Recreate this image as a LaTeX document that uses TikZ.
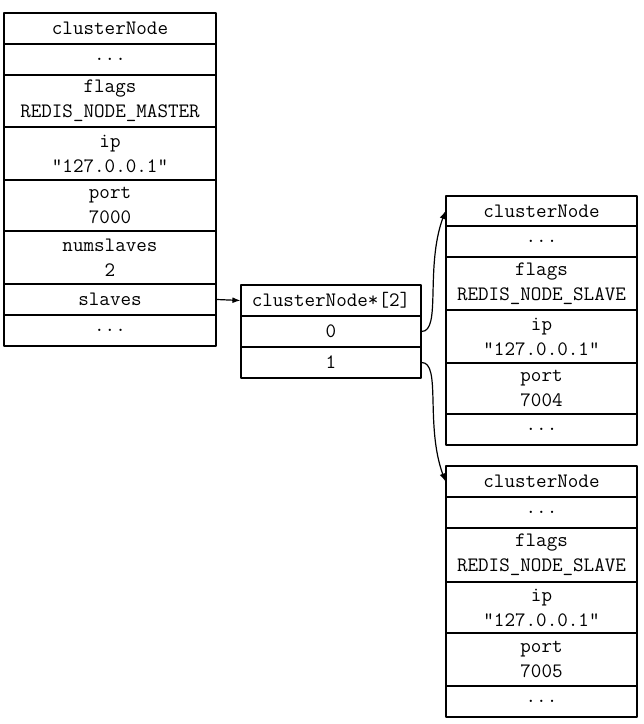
\documentclass[tikz,border=0pt]{standalone}
\usepackage{tikz}
\usetikzlibrary{arrows,arrows.meta,shapes}

\begin{document}
\begin{tikzpicture}[>={Latex[length=8bp,width=6bp]},line join=bevel,
  field/.style={draw,rectangle,inner sep=0pt,align=center,
    font=\ttfamily\fontsize{20.5bp}{25bp}\selectfont},
  mfield/.style={field,minimum width=212bp},
  afield/.style={field,minimum width=180bp},
  sfield/.style={field,minimum width=191bp}]

\pgfsetlinewidth{1.2bp}
\pgfsetcolor{black}
\useasboundingbox (0bp,0bp) rectangle (644bp,724bp);

% Node: master
\node[mfield,minimum height=31bp] (m0) at (110bp,695.5bp) {clusterNode};
\node[mfield,minimum height=31bp] (m1) at (110bp,664.5bp) {...};
\node[mfield,minimum height=52bp] (m2) at (110bp,623bp) {flags\\REDIS\_NODE\_MASTER};
\node[mfield,minimum height=53bp] (m3) at (110bp,570.5bp) {ip\\"127.0.0.1"};
\node[mfield,minimum height=51bp] (m4) at (110bp,518.5bp) {port\\7000};
\node[mfield,minimum height=53bp] (m5) at (110bp,466.5bp) {numslaves\\2};
\node[mfield,minimum height=31bp] (m6) at (110bp,424.5bp) {slaves};
\node[mfield,minimum height=31bp] (m7) at (110bp,393.5bp) {...};

% Node: slaves array
\node[afield,minimum height=31bp] (ah) at (331bp,423.5bp) {clusterNode*[2]};
\node[afield,minimum height=31bp] (a0) at (331bp,392.5bp) {0};
\node[afield,minimum height=31bp] (a1) at (331bp,361.5bp) {1};

% Node: slave 7004
\node[sfield,minimum height=30bp] (s0) at (541.5bp,513bp) {clusterNode};
\node[sfield,minimum height=31bp] (s1) at (541.5bp,482.5bp) {...};
\node[sfield,minimum height=53bp] (s2) at (541.5bp,440.5bp) {flags\\REDIS\_NODE\_SLAVE};
\node[sfield,minimum height=53bp] (s3) at (541.5bp,387.5bp) {ip\\"127.0.0.1"};
\node[sfield,minimum height=51bp] (s4) at (541.5bp,335.5bp) {port\\7004};
\node[sfield,minimum height=31bp] (s5) at (541.5bp,294.5bp) {...};

% Node: slave 7005
\node[sfield,minimum height=31bp] (t0) at (541.5bp,242.5bp) {clusterNode};
\node[sfield,minimum height=31bp] (t1) at (541.5bp,211.5bp) {...};
\node[sfield,minimum height=54bp] (t2) at (541.5bp,169bp) {flags\\REDIS\_NODE\_SLAVE};
\node[sfield,minimum height=51bp] (t3) at (541.5bp,116.5bp) {ip\\"127.0.0.1"};
\node[sfield,minimum height=53bp] (t4) at (541.5bp,64.5bp) {port\\7005};
\node[sfield,minimum height=31bp] (t5) at (541.5bp,22.5bp) {...};

% Edge: m6 -> ah
\draw [->] (m6.east) -- (ah.west);

% Edge: a0 -> s0
\draw [->] (a0.east) to[out=0,in=250,out distance=20bp,in distance=60bp] (s0.west);

% Edge: a1 -> t0
\draw [->] (a1.east) to[out=0,in=110,out distance=20bp,in distance=60bp] (t0.west);

\end{tikzpicture}
\end{document}
